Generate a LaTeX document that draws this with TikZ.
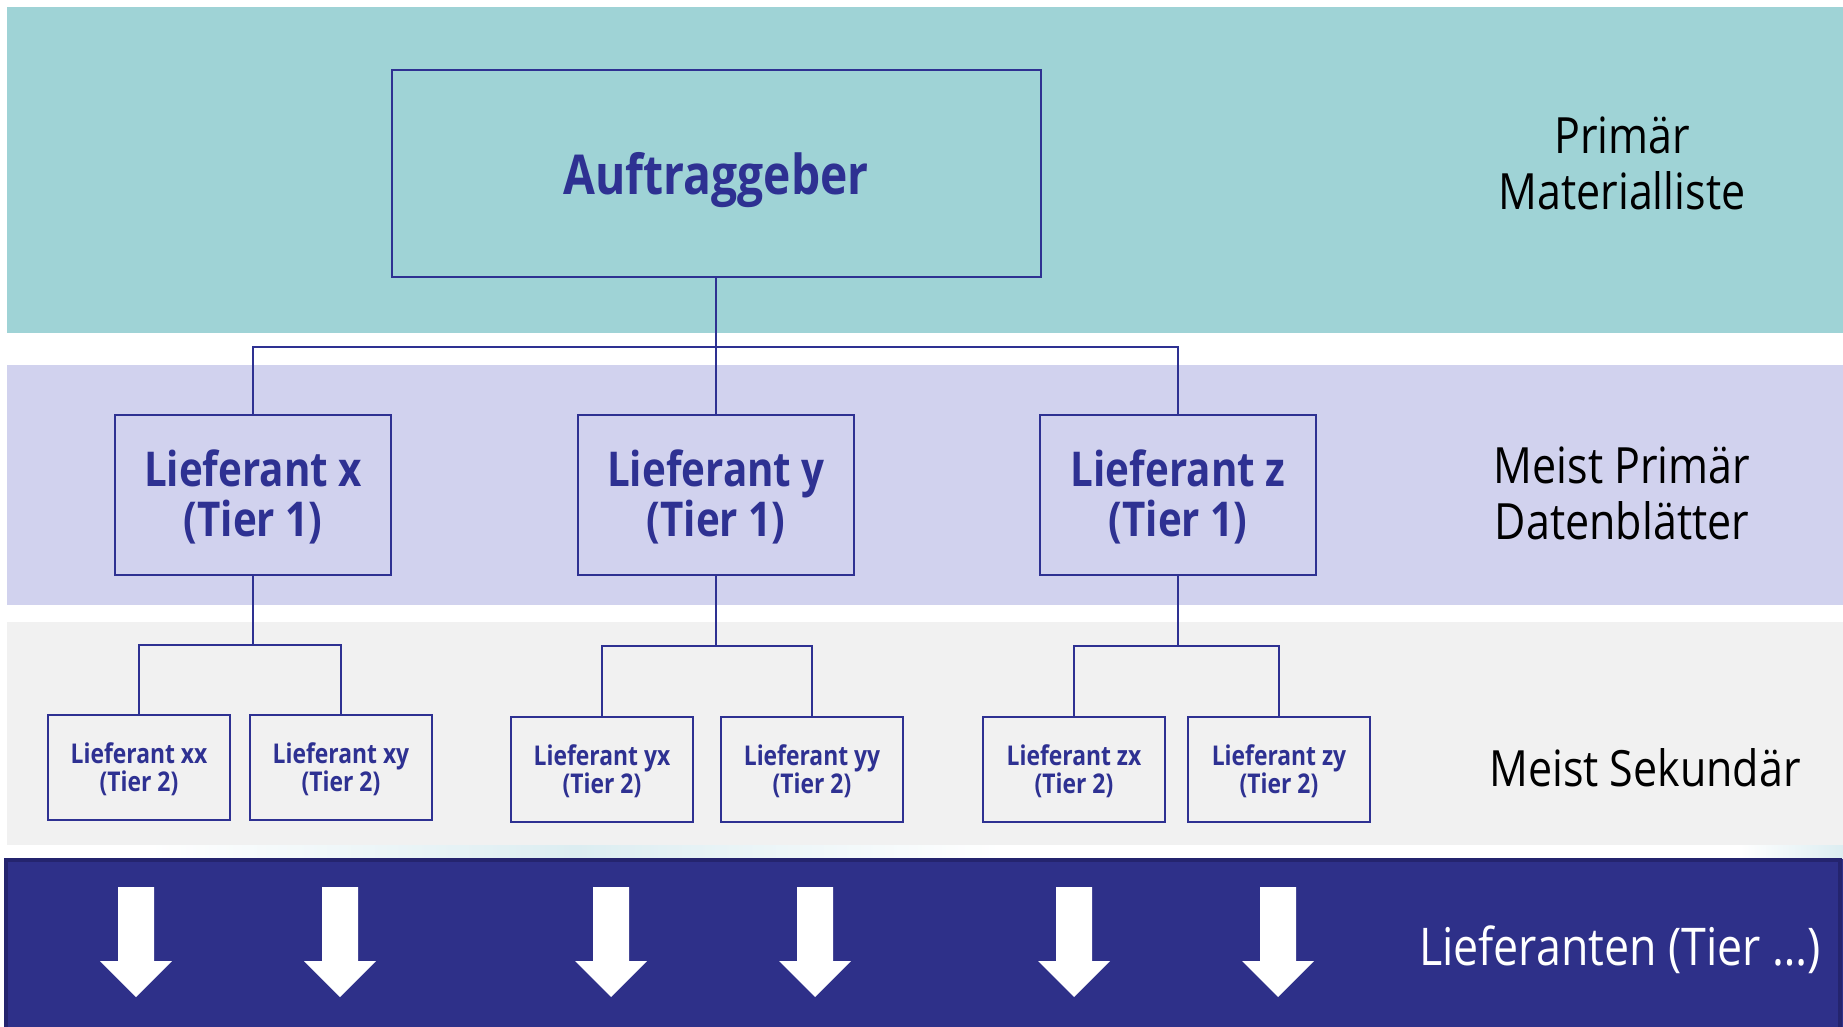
\documentclass[tikz,border=0pt]{standalone}
\usepackage{fontspec}
\setmainfont{Open Sans}[FakeStretch=0.86]
\newfontfamily\boxfont{Open Sans}[FakeStretch=0.84]
\definecolor{navy}{HTML}{2E3192}
\definecolor{bandteal}{HTML}{9FD3D6}
\definecolor{bandlav}{HTML}{D1D2EE}
\definecolor{bandgrey}{HTML}{F1F1F1}
\definecolor{banddark}{HTML}{2E3089}
\definecolor{banddarkedge}{HTML}{24246E}
\definecolor{haze}{HTML}{DCEDF1}
\begin{document}
\begin{tikzpicture}[x=0.5pt,y=-0.5pt,
  box/.style={draw=navy,line width=1pt,rectangle,inner sep=0pt},
  boxtext/.style={align=center,text=navy,inner sep=0pt},
  rootbox/.style={box,minimum width=324.5pt,minimum height=103.5pt,
    label={[boxtext,yshift=-2.9pt,font=\boxfont\bfseries\fontsize{27.5}{30}\selectfont]center:#1}},
  tieronebox/.style={box,minimum width=138pt,minimum height=80pt,
    label={[boxtext,yshift=-1.2pt,font=\boxfont\bfseries\fontsize{24}{25}\selectfont]center:#1}},
  tiertwobox/.style={box,minimum width=91pt,minimum height=52.5pt,
    label={[boxtext,yshift=-1.2pt,font=\boxfont\bfseries\fontsize{13.6}{14.2}\selectfont]center:#1}},
  link/.style={draw=navy,line width=1pt},
  levellabel/.style={align=center,text=black,font=\fontsize{25}{28}\selectfont}]
\useasboundingbox (0,0) rectangle (1843,1027);
\fill[white] (0,0) rectangle (1843,1027);

% level bands
\fill[bandteal] (7,7) rectangle (1843,333);
\fill[bandlav] (7,365) rectangle (1843,605);
\fill[bandgrey] (7,622) rectangle (1843,845);
\shade[left color=white,right color=white,middle color=haze] (150,845) rectangle (1000,860);
\shade[left color=white,right color=haze] (1740,845) rectangle (1843,860);
\fill[banddark] (5,859) rectangle (1843,1030);
\draw[banddarkedge,line width=2pt] (6,1030) -- (6,860) -- (1840,860) -- (1840,1030);

% hierarchy nodes
\node[rootbox={Auftraggeber}] (auf) at (716,174) {};

\node[tieronebox={Lieferant x\\(Tier 1)}] (lx) at (253,495) {};
\node[tieronebox={Lieferant y\\(Tier 1)}] (ly) at (716,495) {};
\node[tieronebox={Lieferant z\\(Tier 1)}] (lz) at (1178,495) {};

\node[tiertwobox={Lieferant xx\\(Tier 2)}] (lxx) at (139,767) {};
\node[tiertwobox={Lieferant xy\\(Tier 2)}] (lxy) at (341,767) {};
\node[tiertwobox={Lieferant yx\\(Tier 2)}] (lyx) at (602,769) {};
\node[tiertwobox={Lieferant yy\\(Tier 2)}] (lyy) at (812,769) {};
\node[tiertwobox={Lieferant zx\\(Tier 2)}] (lzx) at (1074,769) {};
\node[tiertwobox={Lieferant zy\\(Tier 2)}] (lzy) at (1279,769) {};

% connector junctions
\coordinate (bus) at (716,347);
\coordinate (xbus) at (253,645);
\coordinate (ybus) at (716,646);
\coordinate (zbus) at (1178,646);

\draw[link] (auf.south) -- (ly.north);
\draw[link] (lx.north) |- (bus) -| (lz.north);

\draw[link] (lx.south) -- (xbus);
\draw[link] (lxx.north) |- (xbus) -| (lxy.north);
\draw[link] (ly.south) -- (ybus);
\draw[link] (lyx.north) |- (ybus) -| (lyy.north);
\draw[link] (lz.south) -- (zbus);
\draw[link] (lzx.north) |- (zbus) -| (lzy.north);

% level captions
\node[levellabel] (capone) at (1622,163) {Primär\\Materialliste};
\node[levellabel] (captwo) at (1622,493) {Meist Primär\\Datenblätter};
\node[levellabel] (capthree) at (1645,768) {Meist Sekundär};
\node[levellabel,text=white,font=\fontsize{26}{28}\selectfont] (capfour) at (1620,950) {Lieferanten (Tier \dots)};

% downward arrows in the bottom band
\foreach \ax in {136,340,611,815,1074,1278}{
  \fill[white] (\ax-18,887) -- (\ax+18,887) -- (\ax+18,961) -- (\ax+36,961)
    -- (\ax,997) -- (\ax-36,961) -- (\ax-18,961) -- cycle;
}
\end{tikzpicture}
\end{document}
